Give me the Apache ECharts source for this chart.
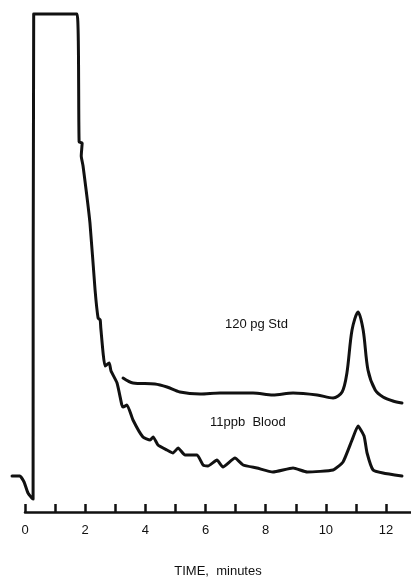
<!DOCTYPE html>
<html lang="en">
<head>
    <meta charset="utf-8">
    <title>Chromatogram</title>
    <script src="https://cdn.jsdelivr.net/npm/echarts@6/dist/echarts.min.js"></script>
</head>
<body style="margin:0; background:#fff;">
<div id="main" style="width: 411px; height: 583px;"></div>

<script type="text/javascript">
    // time in minutes, detector response in arbitrary units
    const bloodTime = [-0.43, -0.17, -0.03, 0.10, 0.27, 0.28, 0.29, 1.73, 1.80, 1.90, 1.87, 1.93,
        2.16, 2.33, 2.43, 2.50, 2.52, 2.66, 2.80, 2.86, 3.06, 3.22, 3.26, 3.39, 3.59, 3.92,
        4.16, 4.26, 4.42, 4.72, 4.92, 5.09, 5.32, 5.72, 5.92, 6.08, 6.38, 6.58, 6.98, 7.25,
        7.71, 8.24, 8.91, 9.38, 10.24, 10.57, 10.87, 11.07, 11.27, 11.37, 11.57, 11.90, 12.53];
    const bloodSignal = [40, 40, 34, 23, 17, 17, 502, 502, 374, 373, 360, 350,
        293, 226, 198, 196, 188, 150, 153, 145, 133, 111, 109, 111, 96, 79,
        76, 79, 71, 66, 63, 68, 61, 61, 51, 50, 56, 49, 58, 51,
        48, 44, 48, 44, 46, 54, 76, 90, 80, 63, 46, 43, 40];

    const stdTime = [3.26, 3.59, 4.32, 4.72, 5.15, 5.82, 6.48, 7.58, 8.24, 8.91, 9.71, 10.24,
        10.54, 10.70, 10.87, 11.07, 11.24, 11.40, 11.64, 11.90, 12.23, 12.53];
    const stdSignal = [138, 133, 132, 129, 124, 122, 123, 123, 121, 123, 121, 118,
        124, 143, 186, 204, 186, 146, 126, 119, 115, 113];

    const tickMinutes = [0, 1, 2, 3, 4, 5, 6, 7, 8, 9, 10, 11, 12];
    const tickLabels = [0, 2, 4, 6, 8, 10, 12];
    const labelText = ['120 pg Std', '11ppb  Blood'];

    function pairs(xs, ys) {
        return xs.map(function (x, i) { return [x, ys[i]]; });
    }

    let myChart = echarts.init(document.getElementById('main'));
    const lineStyle = {color: '#111', width: 3, join: 'round', cap: 'round'};
    const font = 'Liberation Sans';
    const option = {
        animation: false,
        // grid 0 carries the time axis, grid 1 (same scale, starts earlier) carries the traces
        grid: [
            {left: 25, right: 0, top: 0, bottom: 67},
            {left: 0, right: 0, top: 0, bottom: 67}
        ],
        xAxis: [{
            gridIndex: 0,
            type: 'value',
            min: 0,
            max: 12.83,
            name: 'TIME,  minutes',
            nameLocation: 'middle',
            nameGap: 53,
            nameTextStyle: {color: '#111', fontSize: 13, fontFamily: font},
            splitLine: {show: false},
            axisLine: {lineStyle: {color: '#111', width: 2.5}},
            axisTick: {inside: true, length: 8, customValues: tickMinutes, lineStyle: {color: '#111', width: 2.5}},
            axisLabel: {
                margin: 12,
                color: '#111',
                fontSize: 13,
                fontFamily: font,
                customValues: tickLabels
            }
        }, {
            gridIndex: 1, type: 'value', min: -0.83, max: 12.83, show: false
        }],
        yAxis: [
            {gridIndex: 0, type: 'value', min: 0, max: 516, show: false},
            {gridIndex: 1, type: 'value', min: 0, max: 516, show: false}
        ],
        graphic: [
            {type: 'text', left: 225, top: 318, style: {text: labelText[0], fill: '#111', fontSize: 13, fontFamily: font}},
            {type: 'text', left: 210, top: 416, style: {text: labelText[1], fill: '#111', fontSize: 13, fontFamily: font}}
        ],
        series: [
            {
                name: 'Blood', type: 'line', xAxisIndex: 1, yAxisIndex: 1,
                data: pairs(bloodTime, bloodSignal),
                showSymbol: false, smooth: 0.15, lineStyle: lineStyle
            },
            {
                name: 'Std', type: 'line', xAxisIndex: 1, yAxisIndex: 1,
                data: pairs(stdTime, stdSignal),
                showSymbol: false, smooth: 0.3, lineStyle: lineStyle
            }
        ]
    };
    myChart.setOption(option);
</script>
</body>
</html>
